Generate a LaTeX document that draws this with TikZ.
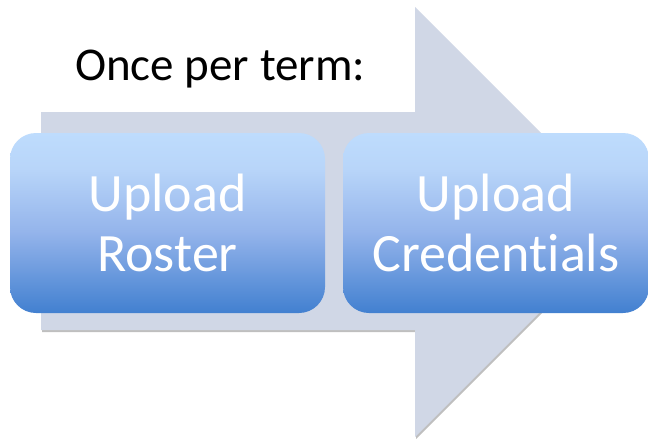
\documentclass[tikz,border=0pt]{standalone}
\usepackage{fontspec}
\setmainfont{Carlito}[Ligatures=NoCommon]
\usetikzlibrary{shadows}
\definecolor{arrowfill}{RGB}{208,215,230}
\definecolor{bT}{RGB}{190,220,253}
\definecolor{bTT}{RGB}{184,213,249}
\definecolor{bM}{RGB}{148,180,235}
\definecolor{bB}{RGB}{66,128,208}
\pgfdeclareverticalshading{boxgrad}{100bp}{color(0bp)=(bB); color(25bp)=(bB); color(47.5bp)=(bM); color(65bp)=(bTT); color(75bp)=(bT); color(100bp)=(bT)}
\begin{document}
\begin{tikzpicture}[x=1pt,y=-1pt,
  bigarrow/.style={fill=arrowfill, draw=none,
    drop shadow={shadow xshift=1pt, shadow yshift=-2pt, opacity=0.25, fill=black}},
  stepbox/.style={shading=boxgrad, draw=none, rounded corners=26pt,
    minimum height=180pt, text=white, align=center, inner sep=0pt,
    font=\fontsize{54}{60}\selectfont},
  titletext/.style={font=\fontsize{47}{50}\selectfont, text=black, inner sep=0pt}]
\useasboundingbox (0,0) rectangle (648,439);
\fill[white] (0,0) rectangle (648,439);
% big background arrow
\path[bigarrow] (41,112) -- (415,112) -- (415,7) -- (630,222) -- (415,437) -- (415,330) -- (41,330) -- cycle;
% title
\node[titletext, anchor=base west] (title) at (75,80) {Once per term:};
% steps
\node[stepbox, minimum width=315pt] (roster) at (167.5,223) {Upload\\Roster};
\node[stepbox, minimum width=306pt] (cred) at (496,223) {Upload\\Credentials};
\end{tikzpicture}
\end{document}
